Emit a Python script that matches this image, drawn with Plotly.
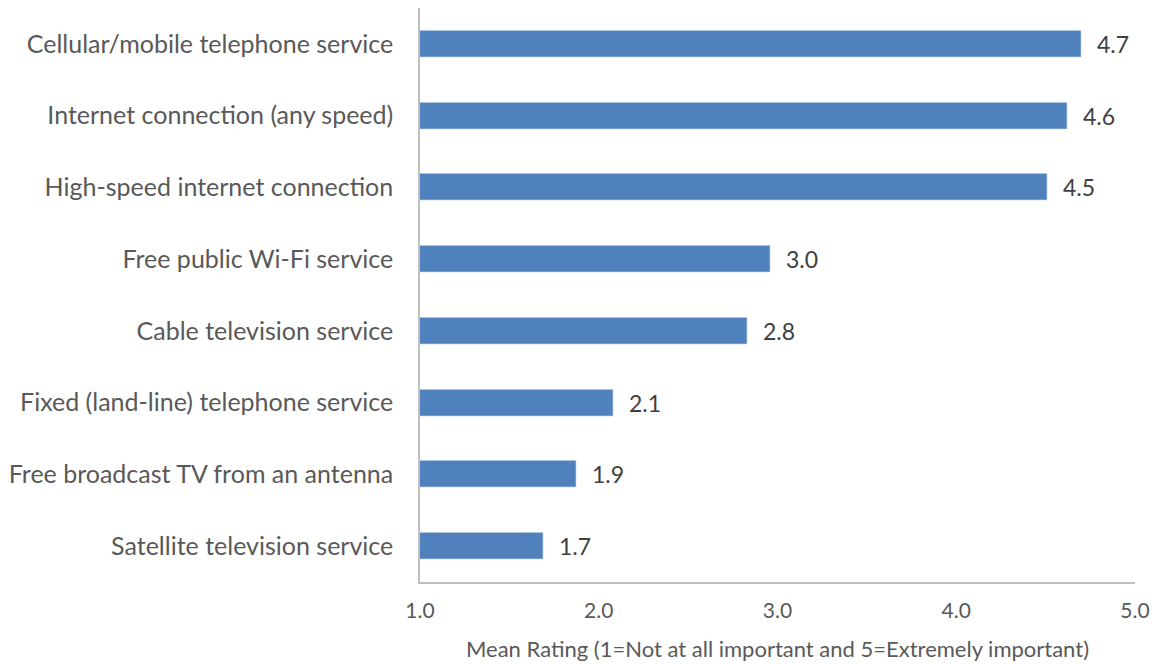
import plotly.graph_objects as go

categories = [
    "Cellular/mobile telephone service",
    "Internet connection (any speed)",
    "High-speed internet connection",
    "Free public Wi-Fi service",
    "Cable television service",
    "Fixed (land-line) telephone service",
    "Free broadcast TV from an antenna",
    "Satellite television service",
]
values = [4.70, 4.62, 4.51, 2.96, 2.83, 2.08, 1.87, 1.69]
x_ticks = [1.0, 2.0, 3.0, 4.0, 5.0]
x_tick_labels = ["1.0", "2.0", "3.0", "4.0", "5.0"]
axis_title = "Mean Rating (1=Not at all important and 5=Extremely important)"

FONT = "Lato"
bar_color = "#4f81bd"

fig = go.Figure()
fig.add_trace(go.Bar(
    x=[v - 1.0 for v in values],
    base=1.0,
    y=categories,
    orientation="h",
    width=0.36,
    marker=dict(color=bar_color, line=dict(color="#6f97cc", width=0.5)),
    hoverinfo="skip",
))

for c, v in zip(categories, values):
    fig.add_annotation(
        x=v, y=c, text=f"{v:.1f}", showarrow=False,
        xanchor="left", xshift=14,
        font=dict(family=FONT, size=23, color="#404040"),
    )

fig.update_layout(
    width=1150, height=656,
    margin=dict(l=412, r=23, t=0, b=82),
    paper_bgcolor="white", plot_bgcolor="white",
    showlegend=False,
    font=dict(family=FONT, color="#595959"),
    bargap=0,
)
fig.update_xaxes(
    range=[1.0, 5.0],
    tickvals=x_ticks, ticktext=x_tick_labels,
    tickfont=dict(family=FONT, size=21, color="#595959"),
    showgrid=False, zeroline=False,
    showline=True, linecolor="#bfbfbf", linewidth=1.5,
    ticks="", ticklabelstandoff=9,
    title=dict(text=axis_title, font=dict(family=FONT, size=22, color="#595959"), standoff=21),
)
fig.update_yaxes(
    categoryorder="array", categoryarray=categories[::-1],
    tickfont=dict(family=FONT, size=25, color="#595959"),
    showgrid=False, zeroline=False,
    showline=True, linecolor="#bfbfbf", linewidth=1.5,
    ticks="", ticklabelstandoff=20,
)

fig.write_html("out.html")
